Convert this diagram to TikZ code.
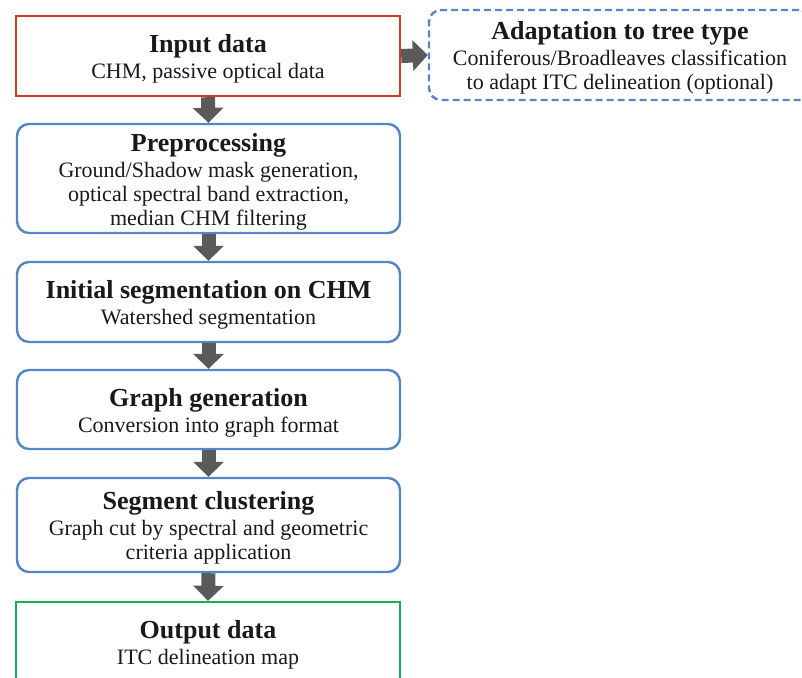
\documentclass[tikz,border=0pt]{standalone}
\usepackage{fontspec}
\setmainfont{Liberation Serif}
\usetikzlibrary{arrows.meta}

\definecolor{inred}{RGB}{214,58,36}
\definecolor{stepblue}{RGB}{84,134,198}
\definecolor{outgreen}{RGB}{16,178,80}
\definecolor{arrowgray}{RGB}{90,90,90}
\definecolor{txt}{RGB}{25,25,25}

% heading line: bold, with a strut that lowers the text block a little
\newcommand{\hd}[1]{{\fontsize{26}{24}\selectfont\bfseries\rule{0pt}{24pt}#1}\\[2pt]}

\tikzset{
  box/.style={draw, line width=2.4pt, text=txt, align=center,
    font=\fontsize{22}{24}\selectfont, inner sep=0pt},
  stepbox/.style={box, draw=stepblue, rounded corners=12pt},
  flow/.style={draw=arrowgray, line width=14pt,
    -{Triangle[width=30pt,length=15pt]}},
}

\begin{document}
\begin{tikzpicture}[x=1pt,y=-1pt]
  \useasboundingbox (0,0) rectangle (802,677);
  \clip (0,0) rectangle (802,677);

  \node[box, draw=inred, minimum width=384pt, minimum height=80pt]
    (input) at (208,56) {\hd{Input data}CHM, passive optical data};

  \node[stepbox, dash pattern=on 7pt off 4pt, minimum width=382pt, minimum height=90pt]
    (adapt) at (620,55) {\hd{Adaptation to tree type}Coniferous/Broadleaves classification\\to adapt ITC delineation (optional)};

  \node[stepbox, minimum width=383pt, minimum height=109pt]
    (prep) at (208.5,178.5) {\hd{Preprocessing}Ground/Shadow mask generation,\\optical spectral band extraction,\\median CHM filtering};

  \node[stepbox, minimum width=383pt, minimum height=80pt]
    (init) at (208.5,302) {\hd{Initial segmentation on CHM}Watershed segmentation};

  \node[stepbox, minimum width=383pt, minimum height=79pt]
    (graph) at (208.5,409.5) {\hd{Graph generation}Conversion into graph format};

  \node[stepbox, minimum width=383pt, minimum height=94pt]
    (clust) at (208.5,525) {\hd{Segment clustering}Graph cut by spectral and geometric\\criteria application};

  \node[box, draw=outgreen, minimum width=384pt, minimum height=80pt]
    (output) at (208,642) {\hd{Output data}ITC delineation map};

  \draw[flow] (input.east) -- (adapt.west);
  \draw[flow] (input.south) -- (prep.north);
  \draw[flow] (prep.south) -- (init.north);
  \draw[flow] (init.south) -- (graph.north);
  \draw[flow] (graph.south) -- (clust.north);
  \draw[flow] (clust.south) -- (output.north);
\end{tikzpicture}
\end{document}
